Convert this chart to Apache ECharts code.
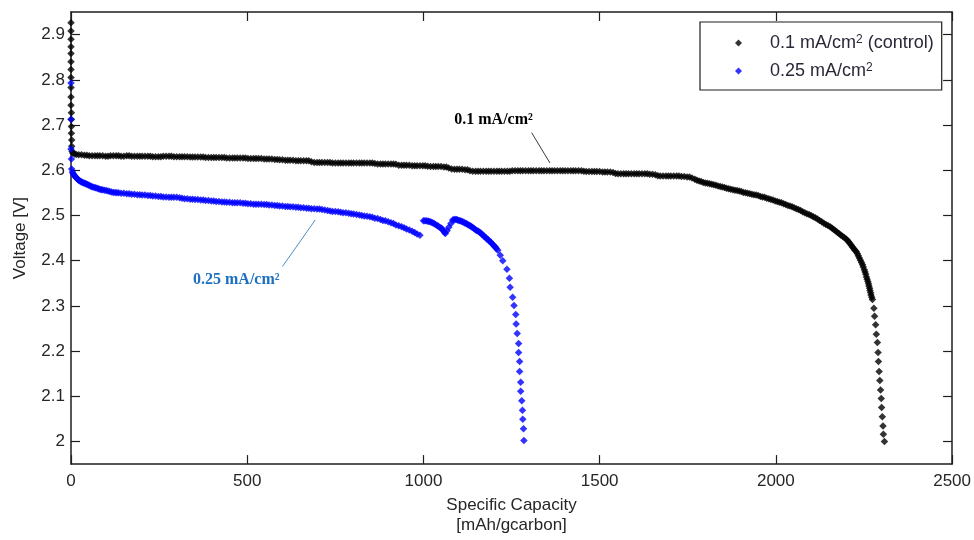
<!DOCTYPE html>
<html><head><meta charset="utf-8">
<script src="https://cdn.jsdelivr.net/npm/echarts@6/dist/echarts.min.js"></script>
<style>html,body{margin:0;padding:0;background:#fff}#c{width:974px;height:540px}</style>
</head><body><div id="c"></div>
<script>
const seriesNames = ['0.1 mA/cm2 (control)', '0.25 mA/cm2'];
const xTicks = [0, 500, 1000, 1500, 2000, 2500];
const yTicks = [2, 2.1, 2.2, 2.3, 2.4, 2.5, 2.6, 2.7, 2.8, 2.9];
const xTitle = 'Specific Capacity\n[mAh/gcarbon]';
const yTitle = 'Voltage [V]';
const annoBlackText = '0.1 mA/cm²';
const annoBlueText = '0.25 mA/cm²';
// annotation anchor points in data units: [text centre, line start, line end]
const annoBlack = [[1199, 2.711], [1307, 2.683], [1359, 2.616]];
const annoBlue = [[469, 2.357], [600, 2.387], [693, 2.490]];

// 0.1 mA/cm2 (control): [capacity, voltage]
const black = [
[0,2.926],[0,2.908],[0,2.890],[0,2.873],[0,2.858],[0,2.840],[0,2.823],[0,2.805],[0,2.783],[0,2.762],[0,2.744],[1,2.727],[1,2.712],[1,2.697],[1,2.682],[2,2.667],[2,2.653],[3,2.642],
[5,2.638],[10,2.636],[15,2.635],[22,2.634],[30,2.634],[38,2.633],[45,2.633],[52,2.632],[60,2.632],[68,2.632],[75,2.632],[82,2.632],[90,2.632],[98,2.631],[105,2.631],[112,2.632],[120,2.632],[128,2.632],[135,2.632],[142,2.631],[150,2.631],[158,2.632],[165,2.632],[172,2.631],[180,2.631],[188,2.631],[195,2.631],[202,2.631],[210,2.631],[218,2.631],[225,2.631],[232,2.630],[240,2.630],[248,2.630],[255,2.630],[262,2.631],[270,2.631],[278,2.631],[285,2.631],[292,2.630],[300,2.630],[308,2.630],[315,2.630],[322,2.630],[330,2.630],[338,2.629],[345,2.629],[352,2.629],[360,2.629],[368,2.629],[375,2.629],[382,2.628],[390,2.628],[398,2.628],[405,2.628],[412,2.628],[420,2.628],[428,2.628],[435,2.628],[442,2.627],[450,2.627],[458,2.627],[465,2.627],[472,2.627],[480,2.627],[488,2.627],[495,2.627],[502,2.626],[510,2.626],[518,2.626],[525,2.626],[532,2.626],[540,2.626],[548,2.625],[555,2.625],[562,2.625],[570,2.625],[578,2.624],[585,2.624],[592,2.623],[600,2.623],[608,2.622],[615,2.622],[622,2.622],[630,2.622],[638,2.621],[645,2.621],[652,2.621],[660,2.621],[668,2.621],[675,2.621],[682,2.619],
[690,2.617],[698,2.617],[705,2.617],[712,2.617],[720,2.617],[728,2.617],[735,2.617],[742,2.616],[750,2.616],[758,2.616],[765,2.616],[772,2.616],[780,2.616],[788,2.616],[795,2.616],[802,2.616],[810,2.616],[818,2.616],[825,2.616],[832,2.616],[840,2.616],[848,2.616],[855,2.616],[862,2.615],[870,2.614],[878,2.614],[885,2.614],[892,2.614],[900,2.614],[908,2.614],[915,2.614],[922,2.613],[930,2.611],[938,2.611],[945,2.611],[952,2.611],[960,2.611],[968,2.610],[975,2.610],[982,2.610],[990,2.610],[998,2.610],[1005,2.610],[1012,2.609],[1020,2.608],[1028,2.608],[1035,2.608],[1042,2.608],[1050,2.608],[1058,2.607],[1065,2.607],[1072,2.605],[1080,2.603],[1088,2.602],[1095,2.602],[1102,2.602],[1110,2.602],[1118,2.601],[1125,2.601],[1132,2.599],
[1140,2.598],[1148,2.598],[1155,2.598],[1162,2.598],[1170,2.598],[1178,2.598],[1185,2.598],[1192,2.598],[1200,2.598],[1208,2.598],[1215,2.598],[1222,2.598],[1230,2.598],[1238,2.598],[1245,2.598],[1252,2.599],[1260,2.599],[1268,2.599],[1275,2.599],[1282,2.599],[1290,2.599],[1298,2.599],[1305,2.599],[1312,2.599],[1320,2.599],[1328,2.599],[1335,2.599],[1342,2.599],[1350,2.599],[1358,2.599],[1365,2.599],[1372,2.599],[1380,2.599],[1388,2.599],[1395,2.599],[1402,2.599],[1410,2.599],[1418,2.599],[1425,2.599],[1432,2.599],[1440,2.599],[1448,2.599],[1455,2.598],[1462,2.597],[1470,2.597],[1478,2.597],[1485,2.597],[1492,2.597],[1500,2.597],[1508,2.596],[1515,2.596],[1522,2.596],[1530,2.596],[1538,2.595],
[1545,2.593],[1552,2.592],[1560,2.592],[1568,2.592],[1575,2.592],[1582,2.592],[1590,2.592],[1598,2.592],[1605,2.592],[1612,2.592],[1620,2.592],[1628,2.592],[1635,2.592],[1642,2.591],[1650,2.591],[1658,2.590],[1665,2.588],[1672,2.587],[1680,2.587],[1688,2.587],[1695,2.587],[1702,2.587],[1710,2.587],[1718,2.587],[1725,2.587],[1732,2.586],[1740,2.586],[1748,2.585],[1755,2.585],[1762,2.583],[1770,2.580],
[1776,2.578],[1782,2.576],[1788,2.575],[1794,2.573],[1800,2.572],[1806,2.571],[1812,2.570],[1818,2.569],[1824,2.568],[1830,2.567],[1836,2.565],[1842,2.564],[1848,2.563],[1854,2.562],[1860,2.560],[1866,2.559],[1872,2.558],[1878,2.557],[1884,2.556],[1890,2.555],[1896,2.554],[1902,2.553],[1908,2.551],[1914,2.550],[1920,2.549],[1926,2.548],[1932,2.547],[1938,2.546],[1944,2.545],[1950,2.544],[1956,2.542],[1962,2.541],[1968,2.540],[1974,2.538],[1980,2.537],[1986,2.535],[1992,2.534],[1998,2.532],[2004,2.531],[2010,2.529],[2016,2.528],[2022,2.526],[2028,2.524],[2034,2.522],[2040,2.521],[2046,2.519],[2052,2.517],[2058,2.515],[2064,2.513],[2070,2.511],[2076,2.508],[2082,2.506],[2088,2.504],[2094,2.502],[2100,2.500],[2106,2.497],[2112,2.495],[2118,2.492],[2124,2.489],[2130,2.486],[2136,2.483],[2142,2.480],[2148,2.478],[2154,2.475],[2159,2.472],[2164,2.469],[2169,2.466],[2174,2.463],[2179,2.460],[2184,2.457],[2189,2.454],[2194,2.451],[2199,2.448],[2203,2.445],[2207,2.441],[2210,2.438],[2214,2.434],[2217,2.430],[2221,2.427],[2224,2.423],[2228,2.420],[2231,2.416],[2234,2.411],[2237,2.406],[2240,2.401],[2243,2.396],[2246,2.391],[2248,2.386],[2251,2.380],[2253,2.375],[2255,2.370],[2257,2.364],[2259,2.359],[2261,2.354],[2263,2.349],[2264,2.344],[2266,2.339],[2267,2.334],[2269,2.329],[2270,2.324],[2272,2.319],[2274,2.314],
[2278,2.295],[2280,2.277],[2283,2.258],[2285,2.237],[2288,2.219],[2290,2.197],[2291,2.177],[2293,2.155],[2295,2.135],[2297,2.114],[2299,2.095],[2300,2.075],[2302,2.055],[2304,2.034],[2305,2.016],[2308,2.000]
];

// 0.25 mA/cm2: [capacity, voltage]
const blue = [
[0,2.793],[0,2.713],[0,2.647],[1,2.625],[2,2.603],
[4,2.596],[6,2.593],[8,2.590],[10,2.588],[12,2.586],[14,2.584],[16,2.583],[18,2.581],[20,2.579],[22,2.578],[25,2.576],[28,2.575],[30,2.574],[33,2.573],[36,2.572],[39,2.571],[42,2.570],[45,2.569],[48,2.568],[51,2.567],[55,2.565],[58,2.564],[62,2.563],[66,2.562],[70,2.561],[74,2.560],[78,2.559],[82,2.558],[86,2.557],[90,2.557],[95,2.556],[100,2.555],[105,2.554],[110,2.553],[115,2.552],[120,2.551],[125,2.551],[130,2.550],[135,2.550],[142,2.549],[150,2.549],[158,2.548],[165,2.548],[172,2.547],[180,2.547],[188,2.546],[195,2.546],[202,2.545],[210,2.545],[218,2.544],[225,2.544],[232,2.543],[240,2.543],[248,2.542],[255,2.542],[262,2.541],[270,2.541],[278,2.540],[285,2.540],[292,2.540],[300,2.540],[308,2.539],[315,2.538],[322,2.537],[330,2.537],[338,2.536],[345,2.536],[352,2.535],[360,2.535],[368,2.534],[375,2.534],[382,2.533],[390,2.533],[398,2.532],[405,2.532],[412,2.531],[420,2.531],[428,2.530],[435,2.530],[442,2.529],[450,2.529],[458,2.528],[465,2.528],[472,2.528],[480,2.528],[488,2.527],[495,2.527],[502,2.526],[510,2.526],[518,2.525],[525,2.525],[532,2.525],[540,2.525],[548,2.524],[555,2.524],[562,2.523],[570,2.523],[578,2.522],[585,2.522],[592,2.521],[600,2.521],[608,2.520],[615,2.520],[622,2.519],[630,2.519],[638,2.518],[645,2.518],[652,2.517],[660,2.517],[668,2.516],[675,2.516],[682,2.515],[690,2.515],[698,2.514],[705,2.514],[712,2.513],[720,2.512],[728,2.511],[735,2.510],[742,2.509],[750,2.509],[758,2.508],[765,2.507],[772,2.506],[780,2.506],[788,2.505],[795,2.504],[802,2.503],[810,2.502],[818,2.501],[825,2.500],[832,2.499],[840,2.498],[848,2.497],[855,2.496],[862,2.494],[870,2.493],[878,2.491],[885,2.489],[892,2.488],[900,2.486],[908,2.484],[915,2.482],[922,2.479],[930,2.477],[938,2.475],[945,2.473],[952,2.470],[960,2.468],[968,2.465],[975,2.462],[982,2.459],[990,2.456],
[1000,2.488],[1004,2.488],[1008,2.488],[1012,2.487],[1015,2.487],[1019,2.486],[1022,2.485],[1026,2.484],[1030,2.482],[1034,2.480],[1039,2.478],[1042,2.476],[1046,2.474],[1050,2.472],[1053,2.470],[1056,2.467],[1058,2.465],[1060,2.462],[1062,2.460],[1067,2.466],[1072,2.474],[1078,2.482],[1083,2.490],[1087,2.491],[1090,2.491],[1094,2.491],[1097,2.490],[1101,2.489],[1104,2.488],[1108,2.487],[1111,2.486],[1115,2.485],[1118,2.483],[1122,2.482],[1125,2.480],[1129,2.479],[1132,2.477],[1135,2.476],[1138,2.474],[1142,2.472],[1145,2.470],[1149,2.468],[1152,2.466],[1156,2.465],[1159,2.463],[1163,2.461],[1166,2.458],[1170,2.456],[1173,2.453],[1177,2.451],[1180,2.448],[1184,2.446],[1187,2.443],[1191,2.441],[1194,2.438],[1198,2.435],[1201,2.432],[1204,2.430],[1207,2.427],
[1211,2.423],[1218,2.412],[1225,2.400],[1237,2.381],[1244,2.361],[1246,2.341],[1253,2.319],[1257,2.301],[1262,2.281],[1263,2.260],[1266,2.239],[1270,2.217],[1270,2.197],[1273,2.177],[1273,2.155],[1276,2.131],[1276,2.111],[1279,2.090],[1281,2.069],[1282,2.049],[1284,2.028],[1285,2.002]
];

const chart = echarts.init(document.getElementById('c'), null, {renderer: 'canvas'});
const axisColor = '#1e1e1e';
const labelColor = '#262626';
const legendColor = '#2a2838';
const font = 'Arial, "Liberation Sans", sans-serif';

function legendFmt(name) {
  if (name === seriesNames[0]) return '{g|}{t|0.1 mA/cm}{s|2}{t| (control)}';
  return '{g|}{t|0.25 mA/cm}{s|2}';
}

const xBase = {
  type: 'value', min: xTicks[0], max: xTicks[xTicks.length - 1],
  axisLine: {show: true, onZero: false, lineStyle: {color: axisColor, width: 1.5}},
  axisTick: {show: true, inside: true, length: 9, customValues: xTicks, lineStyle: {color: axisColor, width: 1.2}},
  splitLine: {show: false}
};
const yBase = {
  type: 'value', min: 1.95, max: 2.95,
  axisLine: {show: true, onZero: false, lineStyle: {color: axisColor, width: 1.5}},
  axisTick: {show: true, inside: true, length: 9, customValues: yTicks, lineStyle: {color: axisColor, width: 1.2}},
  splitLine: {show: false}
};

chart.setOption({
  animation: false,
  backgroundColor: '#fff',
  grid: {left: 71, right: 19, top: 12, bottom: 72, containLabel: false},
  legend: {
    orient: 'vertical', left: 700, top: 22,
    data: [{name: seriesNames[0], icon: 'diamond'}, {name: seriesNames[1], icon: 'diamond'}],
    itemWidth: 7, itemHeight: 7, itemGap: 10,
    padding: [12, 8, 10, 35],
    backgroundColor: '#fff', borderColor: '#1e1e1e', borderWidth: 1.2, borderRadius: 0,
    formatter: legendFmt,
    textStyle: {
      color: legendColor,
      rich: {
        g: {width: 23},
        t: {fontSize: 18, fontFamily: font, color: legendColor, lineHeight: 18},
        s: {fontSize: 12, fontFamily: font, color: legendColor, lineHeight: 12, verticalAlign: 'top'}
      }
    }
  },
  xAxis: [
    Object.assign({}, xBase, {
      position: 'bottom',
      name: xTitle, nameLocation: 'middle', nameGap: 26,
      nameTextStyle: {fontSize: 17, fontFamily: font, color: labelColor, lineHeight: 20},
      axisLabel: {show: true, customValues: xTicks, margin: 9, fontSize: 17, fontFamily: font, color: labelColor,
                  formatter: v => String(v)}
    }),
    Object.assign({}, xBase, {position: 'top', axisLabel: {show: false}})
  ],
  yAxis: [
    Object.assign({}, yBase, {
      position: 'left',
      name: yTitle, nameLocation: 'middle', nameGap: 42,
      nameTextStyle: {fontSize: 17, fontFamily: font, color: labelColor},
      axisLabel: {show: true, customValues: yTicks, margin: 6, fontSize: 17, fontFamily: font, color: labelColor,
                  formatter: v => String(v)}
    }),
    Object.assign({}, yBase, {position: 'right', axisLabel: {show: false}})
  ],
  series: [
    {name: seriesNames[0], type: 'scatter', data: black, symbol: 'diamond', symbolSize: 7.5,
     itemStyle: {color: '#000000'}, xAxisIndex: 0, yAxisIndex: 0, z: 2},
    {name: seriesNames[1], type: 'scatter', data: blue, symbol: 'diamond', symbolSize: 7.5,
     itemStyle: {color: '#0000ff'}, xAxisIndex: 0, yAxisIndex: 0, z: 3}
  ]
});

function px(p) { return chart.convertToPixel({gridIndex: 0}, p); }
const bt = px(annoBlack[0]), b1 = px(annoBlack[1]), b2 = px(annoBlack[2]);
const ut = px(annoBlue[0]), u1 = px(annoBlue[1]), u2 = px(annoBlue[2]);
const annoFont = 'bold 16px "Liberation Serif", "Times New Roman", serif';
chart.setOption({
  graphic: [
    {type: 'line', shape: {x1: b1[0], y1: b1[1], x2: b2[0], y2: b2[1]}, style: {stroke: '#3a3a3a', lineWidth: 1}, z: 10},
    {type: 'text', x: bt[0], y: bt[1], style: {text: annoBlackText, font: annoFont, fill: '#000', textAlign: 'center', textVerticalAlign: 'middle'}, z: 10},
    {type: 'line', shape: {x1: u1[0], y1: u1[1], x2: u2[0], y2: u2[1]}, style: {stroke: '#4f8fc9', lineWidth: 1}, z: 10},
    {type: 'text', x: ut[0], y: ut[1], style: {text: annoBlueText, font: annoFont, fill: '#1c6fc0', textAlign: 'center', textVerticalAlign: 'middle'}, z: 10}
  ]
});
</script>
</body></html>
